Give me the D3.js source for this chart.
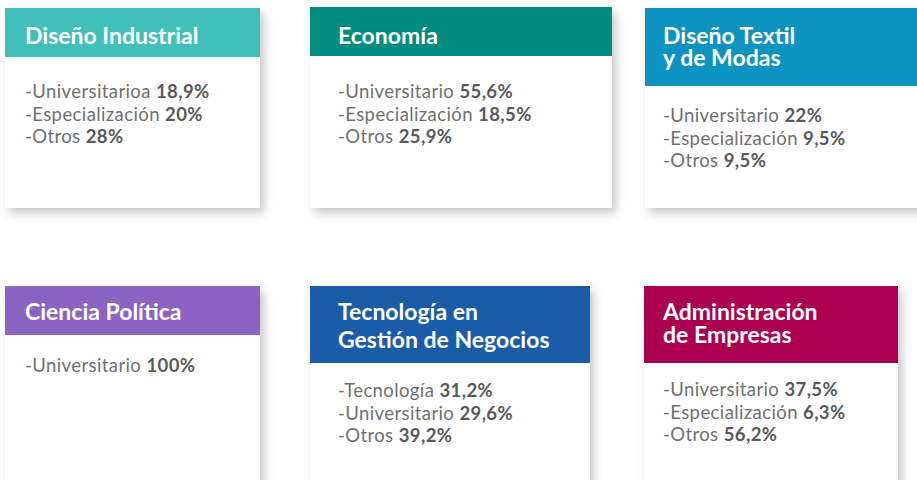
<!DOCTYPE html>
<html>
<head>
<meta charset="utf-8">
<script src="https://cdn.jsdelivr.net/npm/d3@7/dist/d3.min.js"></script>
<style>
  html, body { margin: 0; padding: 0; background: #fff; }
  svg { display: block; }
</style>
</head>
<body>
<svg id="chart" width="917" height="480"></svg>
<script>
// ---- data ----
const programs = ["Diseño Industrial", "Economía", "Diseño Textil\ny de Modas",
                  "Ciencia Política", "Tecnología en\nGestión de Negocios", "Administración\nde Empresas"];
const categories = [
  ["Universitarioa", "Especialización", "Otros"],
  ["Universitario", "Especialización", "Otros"],
  ["Universitario", "Especialización", "Otros"],
  ["Universitario"],
  ["Tecnología", "Universitario", "Otros"],
  ["Universitario", "Especialización", "Otros"]
];
const values = [
  [18.9, 20, 28],
  [55.6, 18.5, 25.9],
  [22, 9.5, 9.5],
  [100],
  [31.2, 29.6, 39.2],
  [37.5, 6.3, 56.2]
];
const headerColors = ["#41bfba", "#008c80", "#0c93c0", "#8b63c2", "#1b5ca9", "#ab0050"];

// ---- layout ----
const cardX = [5, 310, 645, 5, 310, 644];
const cardY = [8, 7, 8, 286, 286, 286];
const cardW = [255, 302, 280, 255, 280, 254];
const headerH = [49, 49, 78, 49, 77, 77];
const cardBottom = [208, 208, 208, 500, 500, 500];
const textInset = [20, 28, 18, 20, 28, 19];
const titleBase = [44, 44, 44, 320, 320, 320];
const titleLead = [22, 22, 22, 22, 28, 23];
const bodyBase = [98, 98, 122, 372, 397, 396];

const svg = d3.select("#chart");
const defs = svg.append("defs");
const f = defs.append("filter").attr("id", "shadow")
  .attr("x", "-10%").attr("y", "-10%").attr("width", "130%").attr("height", "130%");
f.append("feDropShadow").attr("dx", 4).attr("dy", 5).attr("stdDeviation", 5)
  .attr("flood-color", "#000").attr("flood-opacity", 0.22);

const color = d3.scaleOrdinal().domain(programs).range(headerColors);
const fmt = v => d3.format(",")(v).replace(".", ",") + "%";

const cards = svg.selectAll("g.card").data(programs).join("g")
  .attr("class", "card")
  .attr("transform", (d, i) => `translate(${cardX[i]},${cardY[i]})`);

cards.append("rect")
  .attr("width", (d, i) => cardW[i])
  .attr("height", (d, i) => cardBottom[i] - cardY[i])
  .attr("fill", "#fff")
  .attr("filter", "url(#shadow)");

cards.append("rect")
  .attr("width", (d, i) => cardW[i])
  .attr("height", (d, i) => headerH[i])
  .attr("fill", d => color(d));

cards.each(function(d, i) {
  const g = d3.select(this);
  const lines = d.split("\n");
  lines.forEach((ln, k) => {
    g.append("text")
      .attr("x", textInset[i])
      .attr("y", titleBase[i] - cardY[i] + k * titleLead[i])
      .attr("font-family", "Lato, 'Open Sans', sans-serif")
      .attr("font-weight", 700)
      .attr("font-size", 23)
      .attr("fill", "#fff")
      .text(ln);
  });

  const body = g.append("g").attr("transform", `translate(${textInset[i]},${bodyBase[i] - cardY[i]})`);
  const y = d3.scalePoint().domain(d3.range(3)).range([0, 45]);
  body.selectAll("text").data(categories[i]).join("text")
    .attr("y", (c, k) => y(k))
    .attr("font-family", "Lato, 'Open Sans', sans-serif")
    .attr("font-size", 18.5)
    .attr("letter-spacing", 0.4)
    .attr("fill", "#6f7072")
    .each(function(c, k) {
      const tx = d3.select(this);
      tx.append("tspan").text("-" + c + " ");
      tx.append("tspan").attr("font-weight", 700).attr("fill", "#58595b").text(fmt(values[i][k]));
    });
});
</script>
</body>
</html>
